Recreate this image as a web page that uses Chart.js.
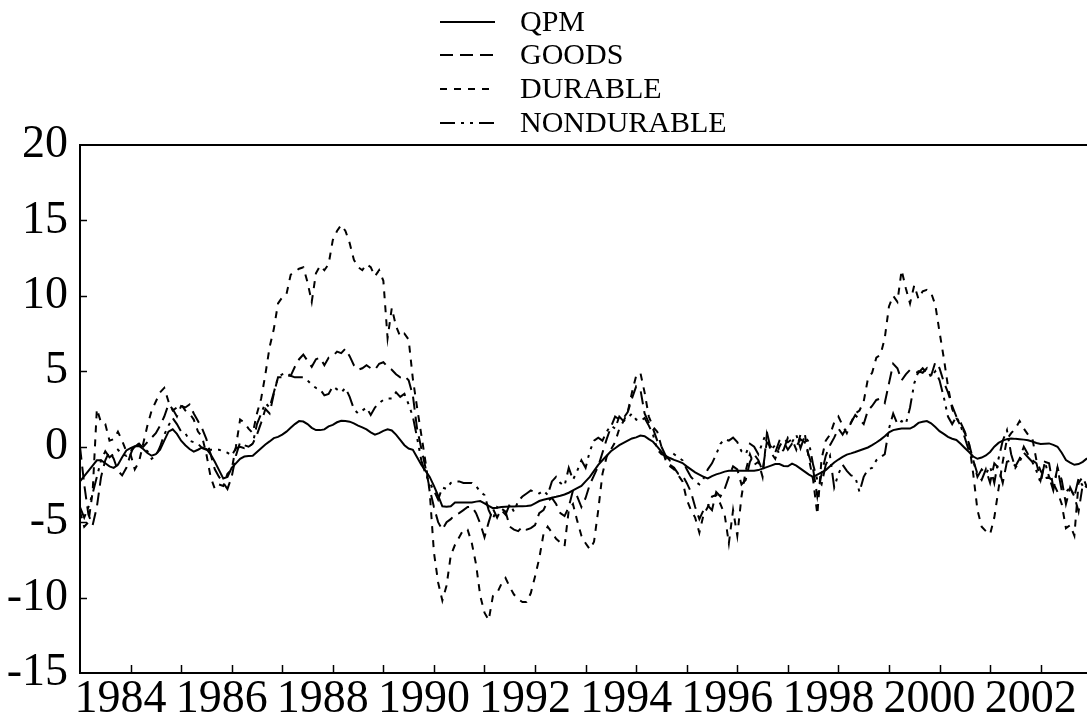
<!DOCTYPE html>
<html><head><meta charset="utf-8">
<script src="https://cdn.jsdelivr.net/npm/chart.js@4.4.0/dist/chart.umd.min.js"></script>
<style>html,body{margin:0;padding:0;background:#fff;}#wrap{width:1087px;height:719px;}</style>
</head><body><div id="wrap"><canvas id="c" width="1087" height="719"></canvas></div>
<script>
// ---- data (monthly, 1983:01 - 2002:12) ----
const startYear = 1983;
const seriesNames = ['QPM', 'GOODS', 'DURABLE', 'NONDURABLE'];
const yTicks = [-15, -10, -5, 0, 5, 10, 15, 20];
const xTickLabels = ['1984','1986','1988','1990','1992','1994','1996','1998','2000','2002'];

const qpm = [
-2.3,-1.95,-1.6,-1.25,-0.9,-0.9,-1.1,-1.3,-1.4,-1.2,-0.7,-0.25,
-0.1,0.03,0.05,-0.15,-0.42,-0.6,-0.5,-0.2,0.4,1.0,1.15,0.85,
0.4,0.1,-0.15,-0.33,-0.2,-0.05,-0.15,-0.5,-1.0,-1.55,-2.1,-2.0,
-1.4,-1.1,-0.8,-0.65,-0.62,-0.6,-0.35,-0.1,0.15,0.35,0.57,0.65,
0.8,1.0,1.25,1.5,1.7,1.67,1.5,1.25,1.1,1.1,1.15,1.35,
1.45,1.62,1.72,1.7,1.66,1.55,1.4,1.28,1.15,0.95,0.8,0.9,
1.05,1.15,1.08,0.8,0.45,0.1,-0.12,-0.2,-0.7,-1.2,-1.6,-2.0,
-2.6,-3.25,-3.95,-3.98,-3.95,-3.7,-3.7,-3.7,-3.7,-3.7,-3.64,-3.6,
-3.75,-3.92,-4.07,-4.05,-4.0,-3.98,-3.97,-3.96,-3.95,-3.94,-3.93,-3.9,
-3.75,-3.6,-3.52,-3.45,-3.38,-3.32,-3.25,-3.17,-3.05,-2.9,-2.75,-2.6,
-2.3,-2.0,-1.6,-1.2,-0.9,-0.6,-0.3,-0.1,0.1,0.25,0.4,0.55,
0.62,0.74,0.7,0.5,0.33,0.0,-0.33,-0.6,-0.75,-0.87,-0.97,-1.08,
-1.3,-1.5,-1.7,-1.85,-2.0,-2.1,-1.95,-1.83,-1.75,-1.65,-1.6,-1.59,
-1.59,-1.59,-1.59,-1.59,-1.59,-1.55,-1.45,-1.35,-1.25,-1.15,-1.15,-1.28,
-1.3,-1.12,-1.25,-1.45,-1.65,-1.85,-2.0,-1.85,-1.7,-1.55,-1.3,-1.05,
-0.85,-0.68,-0.52,-0.44,-0.35,-0.25,-0.15,-0.05,0.1,0.28,0.47,0.7,
0.95,1.1,1.16,1.2,1.2,1.2,1.35,1.58,1.65,1.7,1.55,1.3,
1.03,0.85,0.65,0.53,0.45,0.2,-0.08,-0.35,-0.65,-0.8,-0.72,-0.58,
-0.35,0.0,0.25,0.4,0.5,0.55,0.52,0.5,0.47,0.43,0.35,0.25,
0.18,0.2,0.22,0.12,0.0,-0.4,-0.88,-1.05,-1.2,-1.15,-1.0,-0.77
];

const goods = [
0.0,-2.5,-4.5,-5.2,-4.0,-2.0,-0.9,-0.3,-0.8,-1.6,-1.9,-1.4,
-0.5,0.2,0.1,0.0,0.3,0.6,0.9,1.4,2.0,2.8,2.5,2.0,
2.7,2.6,2.8,2.2,1.7,1.2,0.5,-0.5,-1.5,-2.0,-2.4,-2.8,
-2.0,-0.6,0.3,0.1,0.0,0.2,0.8,1.6,2.5,2.2,3.5,4.6,
4.6,4.7,4.7,5.3,5.8,6.1,5.7,5.3,5.8,5.9,5.4,5.9,
6.0,6.3,6.2,6.5,6.0,5.4,5.1,5.2,5.4,5.2,5.1,5.5,
5.6,5.3,5.1,4.8,4.6,4.7,4.4,3.4,1.2,-0.1,-1.4,-2.8,
-4.0,-5.0,-5.5,-5.0,-4.8,-4.5,-4.4,-4.2,-4.0,-3.97,-4.4,-5.1,
-6.0,-5.0,-4.1,-4.7,-4.1,-4.3,-5.3,-5.5,-5.6,-5.3,-5.5,-5.4,
-5.2,-4.4,-4.2,-3.6,-3.4,-3.8,-4.4,-4.6,-4.0,-2.9,-3.3,-4.0,
-3.4,-2.5,-1.9,-1.3,-0.4,0.5,1.3,2.0,1.8,1.9,2.3,3.2,
4.0,3.8,2.2,1.6,1.2,0.4,0.0,-0.6,-1.2,-1.4,-1.8,-1.9,
-2.4,-3.0,-4.0,-4.8,-4.2,-3.9,-4.2,-3.0,-3.3,-2.8,-2.0,-1.3,
-1.5,-2.5,-2.2,-1.0,-0.5,-0.9,-1.6,0.3,0.0,-0.4,0.4,0.3,
-0.2,0.2,0.0,0.5,0.3,-0.6,-1.5,-3.3,-1.8,-0.6,0.1,0.6,
1.2,0.8,1.3,1.6,2.1,1.8,1.5,2.4,2.7,3.1,3.2,2.9,
4.2,5.5,5.2,4.4,4.8,5.1,5.0,4.9,5.2,4.9,4.7,5.6,
5.2,4.3,3.6,2.7,2.0,1.6,1.0,0.2,-0.9,-1.8,-2.2,-1.5,
-2.4,-1.1,-1.4,-2.4,-1.0,-0.9,-1.3,-0.8,0.0,-0.5,-0.9,-1.1,
-2.2,-1.0,-1.1,-2.7,-1.4,-2.2,-3.8,-2.7,-3.3,-4.3,-2.5,-2.7
];

const durable = [
-4.3,-5.3,-5.0,-3.0,2.5,1.6,1.5,0.4,0.5,1.0,0.4,-0.3,
-0.5,-1.5,-1.0,0.2,1.4,2.4,3.0,3.6,3.9,3.0,2.4,2.6,
2.8,2.4,2.2,1.8,1.0,0.65,-0.5,-2.0,-2.8,-2.5,-2.6,-1.8,
-1.5,0.0,1.8,1.6,1.2,0.9,2.2,3.2,4.8,6.6,7.8,9.5,
9.9,10.1,11.4,11.6,11.8,11.9,10.9,9.6,11.5,12.0,11.7,12.1,
13.7,14.3,14.7,14.3,13.5,12.4,11.9,11.7,12.1,11.9,11.3,11.7,
11.0,7.2,9.2,8.0,7.3,7.5,7.1,4.5,2.6,0.8,-1.0,-3.0,
-7.0,-9.0,-10.2,-9.2,-7.2,-6.5,-6.0,-5.5,-5.5,-6.4,-7.8,-9.9,
-11.0,-11.5,-9.9,-9.7,-9.1,-8.7,-9.3,-9.8,-10.1,-10.3,-10.3,-9.7,
-8.6,-7.4,-5.8,-5.3,-5.7,-6.1,-6.35,-6.6,-4.2,-3.8,-4.9,-5.9,
-6.4,-6.8,-6.3,-4.2,-1.8,-0.66,-0.2,0.3,1.2,1.7,2.3,3.6,
4.7,4.9,3.6,2.0,1.3,1.0,0.0,-0.9,-1.3,-1.5,-1.9,-2.3,
-3.5,-4.2,-4.7,-5.7,-4.5,-4.0,-3.3,-3.2,-3.8,-4.5,-6.4,-4.2,
-5.9,-3.3,-1.6,-0.5,-1.2,-1.0,-2.0,0.8,-0.4,-0.8,0.0,0.5,
0.3,0.5,-0.2,0.8,0.9,-0.8,-2.2,-4.5,-0.8,0.4,0.8,1.6,
2.0,1.4,0.9,1.6,2.2,2.4,3.0,4.5,4.9,5.9,6.1,7.2,
9.3,10.0,9.6,11.7,10.5,9.5,10.7,9.8,10.3,10.4,10.2,9.4,
7.6,5.9,4.0,2.5,1.9,1.4,0.9,0.2,-1.8,-4.2,-5.3,-5.6,
-5.8,-4.7,-2.8,-1.0,0.5,0.9,1.2,1.7,1.2,0.8,0.6,-0.9,
-1.6,-2.1,-2.0,-2.4,-3.0,-3.8,-5.4,-5.2,-5.9,-2.4,-2.0,-2.7
];

const nondurable = [
-4.0,-4.7,-4.0,-3.1,-2.0,-0.9,-0.3,-0.7,-0.5,-0.2,-0.5,-0.6,
-0.3,0.0,0.2,-0.1,-0.3,-0.8,-0.6,0.0,0.8,1.4,1.9,1.5,
1.0,0.9,0.4,0.3,0.2,-0.1,-0.2,-0.2,-0.2,-0.2,-0.3,-0.4,
-0.6,-0.1,0.0,-0.1,0.0,0.2,1.5,2.2,2.9,2.6,3.6,4.6,
4.8,4.9,4.7,4.6,4.6,4.6,4.4,4.1,3.9,3.8,3.4,3.5,
4.0,3.8,3.6,3.9,3.3,2.5,2.2,2.4,2.6,2.1,2.6,2.9,
3.1,3.2,3.2,3.6,3.3,3.5,2.8,2.0,0.6,-0.9,-1.8,-2.4,
-2.9,-3.5,-2.7,-2.8,-2.4,-2.3,-2.3,-2.4,-2.4,-2.4,-2.6,-3.0,
-3.2,-4.2,-4.8,-4.0,-4.2,-4.5,-3.8,-4.3,-3.6,-3.3,-3.1,-2.9,
-3.0,-3.1,-2.9,-3.2,-2.3,-2.0,-2.4,-2.6,-1.4,-2.2,-1.6,-0.9,
-1.4,-0.3,0.4,0.6,0.4,1.0,1.4,1.2,2.0,1.7,1.9,2.2,
1.8,1.7,1.9,1.4,0.8,-0.2,-0.5,-0.6,-0.9,-0.5,-0.7,-0.9,
-1.5,-2.0,-2.3,-2.5,-2.1,-1.5,-1.1,-0.5,0.2,0.5,0.4,0.6,
0.3,-0.3,-0.5,0.2,0.0,-0.5,0.3,1.0,-0.2,0.1,-0.5,-0.2,
0.6,0.3,0.8,-0.1,0.7,0.3,-1.2,-2.2,-2.5,-1.2,-0.6,-2.7,
-1.8,-1.2,-1.6,-1.9,-2.0,-3.0,-2.0,-1.5,-1.4,-0.9,-0.7,-0.5,
1.2,2.2,1.5,1.7,1.5,2.6,4.2,5.0,4.9,5.2,4.6,5.0,
4.4,3.3,2.0,1.5,2.0,1.4,0.6,-0.3,-0.9,-2.0,-1.5,-1.8,
-1.3,-2.4,-0.8,0.4,1.1,-0.5,-1.4,-1.0,-0.4,-0.7,-1.0,-1.6,
-2.4,-1.0,-2.0,-2.9,-1.4,-2.9,-3.0,-2.7,-3.3,-2.1,-2.6,-2.7
];

// ---- build ----
const months = qpm.length;
const toPts = arr => arr.map((v, i) => ({ x: startYear + i / 12, y: v }));
const styles = {
  QPM: [],
  GOODS: [13, 7],
  DURABLE: [7, 7],
  NONDURABLE: [15, 6, 3, 6, 3, 6]
};
const values = { QPM: qpm, GOODS: goods, DURABLE: durable, NONDURABLE: nondurable };
const FONT = '"Liberation Serif", "Times New Roman", Times, serif';

const frameLegend = {
  id: 'frameLegend',
  afterDraw(chart) {
    const { ctx, chartArea: a, scales } = chart;
    const x = scales.x, y = scales.y;
    ctx.save();
    ctx.strokeStyle = '#000';
    ctx.lineWidth = 2;
    ctx.setLineDash([]);
    ctx.beginPath();
    ctx.moveTo(a.right + 2, a.top);
    ctx.lineTo(a.left, a.top);
    ctx.lineTo(a.left, a.bottom);
    ctx.lineTo(a.right + 2, a.bottom);
    ctx.stroke();
    ctx.lineWidth = 1.5;
    x.ticks.forEach(t => {
      if (t.value > x.min + 0.01 && t.value < x.max) {
        const px = Math.round(x.getPixelForValue(t.value)) + 0.5;
        ctx.beginPath(); ctx.moveTo(px, a.bottom); ctx.lineTo(px, a.bottom - 8); ctx.stroke();
      }
    });
    y.ticks.forEach(t => {
      if (t.value > y.min && t.value < y.max) {
        const py = Math.round(y.getPixelForValue(t.value)) + 0.5;
        ctx.beginPath(); ctx.moveTo(a.left, py); ctx.lineTo(a.left + 7, py); ctx.stroke();
      }
    });
    // legend
    const rows = [22, 55, 89, 123];
    ctx.font = '30px ' + FONT;
    ctx.fillStyle = '#000';
    ctx.textBaseline = 'middle';
    ctx.textAlign = 'left';
    chart.data.datasets.forEach((ds, i) => {
      const yy = rows[i];
      ctx.lineWidth = 2;
      ctx.setLineDash(ds.borderDash || []);
      ctx.beginPath(); ctx.moveTo(440, yy); ctx.lineTo(495, yy); ctx.stroke();
      ctx.setLineDash([]);
      ctx.fillText(ds.label, 520, yy + 1);
    });
    ctx.restore();
  }
};

new Chart(document.getElementById('c'), {
  type: 'line',
  data: {
    datasets: seriesNames.map(n => ({
      label: n,
      data: toPts(values[n]),
      borderColor: '#000',
      borderWidth: 2,
      borderDash: styles[n],
      pointRadius: 0,
      tension: 0,
      fill: false
    }))
  },
  options: {
    responsive: false,
    animation: false,
    devicePixelRatio: 1,
    layout: { padding: { top: 145, left: 0, right: 0, bottom: 0 } },
    plugins: { legend: { display: false }, tooltip: { enabled: false } },
    scales: {
      x: {
        type: 'linear',
        min: startYear,
        max: startYear + (months - 1) / 12,
        grid: { display: false, drawTicks: false },
        border: { display: false },
        afterFit: s => { s.height = 46; },
        ticks: {
          stepSize: 1,
          autoSkip: false,
          includeBounds: false,
          maxRotation: 0,
          padding: -1,
          labelOffset: -10,
          color: '#000',
          font: { family: FONT, size: 46 },
          callback: v => xTickLabels.includes(String(v)) ? String(v) : ''
        }
      },
      y: {
        min: yTicks[0],
        max: yTicks[yTicks.length - 1],
        grid: { display: false, drawTicks: false },
        border: { display: false },
        afterFit: s => { s.width = 80; },
        ticks: {
          stepSize: 5,
          padding: 12,
          color: '#000',
          font: { family: FONT, size: 46 },
          callback: v => yTicks.includes(v) ? String(v) : ''
        }
      }
    }
  },
  plugins: [frameLegend]
});
</script>
</body></html>
